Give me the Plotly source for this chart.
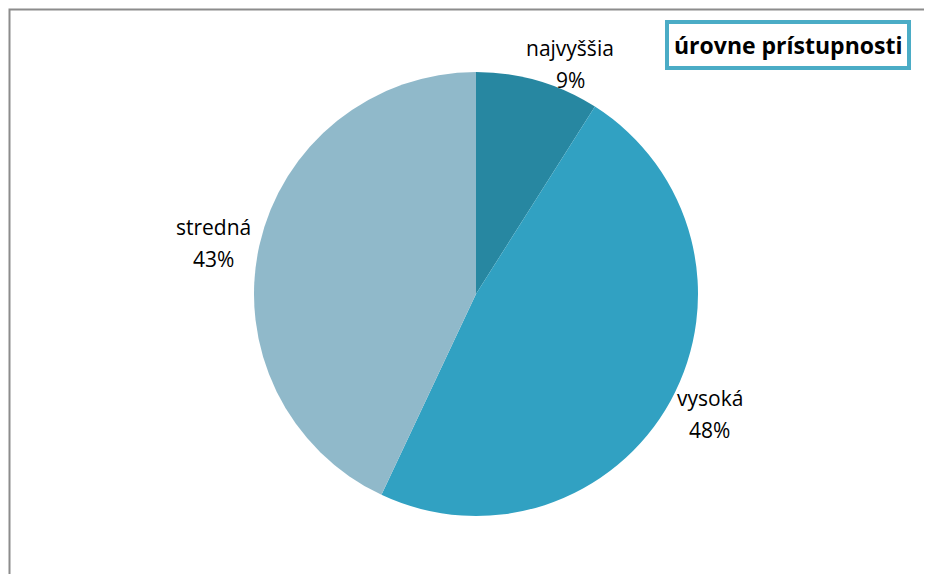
import math
import plotly.graph_objects as go

categories = ["najvyššia", "vysoká", "stredná"]
values = [9, 48, 43]
colors = ["#2787a1", "#31a1c2", "#90b9ca"]
title_text = "úrovne prístupnosti"

W, H = 932, 574
OFF = 8  # page body margin offset
cx, cy, R = 476 - OFF, 294 - OFF, 222  # pie centre / radius in px

# label placement (layout only)
label_radius = 1.18
label_nudge = [(21, 22), (4, -6), (-7, 6)]
line_gap = 16  # half distance between name line and percent line

fig = go.Figure(go.Pie(
    labels=categories,
    values=values,
    marker=dict(colors=colors, line=dict(width=0)),
    sort=False,
    direction="clockwise",
    rotation=0,
    textinfo="none",
    hoverinfo="label+percent",
    showlegend=False,
    domain=dict(x=[(cx - R) / W, (cx + R) / W],
                y=[(H - cy - R) / H, (H - cy + R) / H]),
))

total = sum(values)
annotations = []
cum = 0
for name, v, (dx, dy) in zip(categories, values, label_nudge):
    mid = (cum + v / 2) / total * 2 * math.pi
    cum += v
    px = cx + label_radius * R * math.sin(mid) + dx
    py = cy - label_radius * R * math.cos(mid) + dy
    pct = round(v / total * 100)
    for txt, off in ((name, -line_gap), (f"{pct}%", line_gap)):
        annotations.append(dict(
            x=px / W, y=1 - (py + off) / H, xref="paper", yref="paper",
            text=txt, showarrow=False,
            font=dict(family="Open Sans", size=21, color="#000000"),
            align="center", xanchor="center", yanchor="middle",
        ))

annotations.append(dict(
    x=(787.5 - OFF) / W, y=1 - (45 - OFF) / H, xref="paper", yref="paper",
    text=f"<b>{title_text}</b>", showarrow=False,
    font=dict(family="Open Sans", size=23, color="#000000"),
    bgcolor="#ffffff", bordercolor="#4bacc6", borderwidth=4, borderpad=5,
    xanchor="center", yanchor="middle",
))

fig.update_layout(
    width=W, height=H,
    margin=dict(l=0, r=0, t=0, b=0),
    paper_bgcolor="#ffffff",
    plot_bgcolor="#ffffff",
    annotations=annotations,
    shapes=[dict(type="rect", xref="paper", yref="paper",
                 x0=1.5 / W, x1=1.02, y0=-0.02, y1=1 - 1.5 / H,
                 line=dict(color="#8c8c8c", width=2), layer="below")],
)

fig.write_html("out.html")
